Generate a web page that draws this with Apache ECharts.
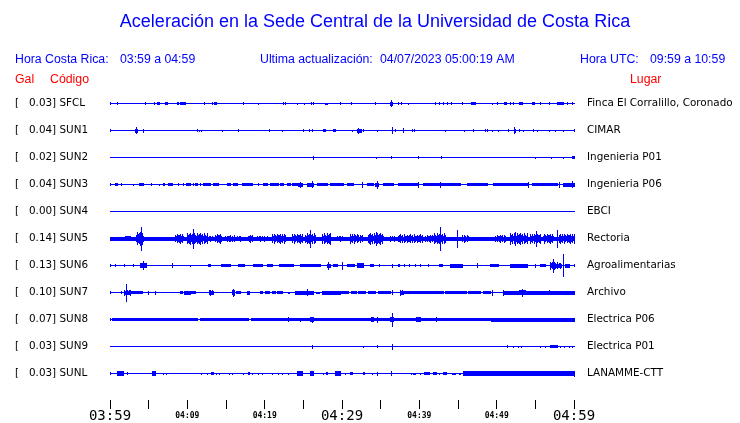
<!DOCTYPE html>
<html>
<head>
<meta charset="utf-8">
<script src="https://cdn.jsdelivr.net/npm/echarts@6/dist/echarts.min.js"></script>
<style>html,body{margin:0;padding:0;background:#fff;}#c{width:740px;height:423px;}</style>
</head>
<body>
<div id="c"></div>
<script>
// ---- data ----
const codes = ['SFCL','SUN1','SUN2','SUN3','SUN4','SUN5','SUN6','SUN7','SUN8','SUN9','SUNL'];
const gal = ['0.03','0.04','0.02','0.04','0.00','0.14','0.13','0.10','0.07','0.03','0.03'];
const places = ['Finca El Corralillo, Coronado','CIMAR','Ingenieria P01','Ingenieria P06','EBCI','Rectoria','Agroalimentarias','Archivo','Electrica P06','Electrica P01','LANAMME-CTT'];
const timeLabels = ['03:59','04:09','04:19','04:29','04:39','04:49','04:59'];
// events: [start minute, end minute, half amplitude]
const evSFCL = [[0,60,0.5],[0,0,1.5],[0.94,0.94,1.5],[4.53,4.53,1.5],[5.73,5.73,1.5],[6.1,6.3,1.5],[7.1,7.35,1.5],[8.7,8.85,1.5],[9.1,9.25,1.5],[9.5,9.65,1.5],[12.16,12.16,1.5],[13.15,13.15,1.5],[13.5,13.75,1.5],[17.16,17.16,1.5],[19.18,19.18,1],[22.41,22.41,1.5],[22.67,22.67,1.5],[24.14,24.14,1],[25.05,25.05,1],[26.03,26.03,1.5],[26.29,26.29,1.5],[27.85,28.0,1],[29.74,29.74,1.5],[31.13,31.13,1.5],[34.23,34.23,1.5],[36.2,36.5,2],[36.34,36.34,3.5],[37.28,37.28,1.5],[37.59,37.59,1.5],[38.57,38.57,1],[42.03,42.03,1.5],[42.54,42.54,1.5],[43.1,43.1,1.5],[43.62,43.62,1.5],[44.06,44.06,1.5],[45.48,45.48,1.5],[46.64,47.2,1.5],[49.36,49.36,1],[50.01,50.01,1.5],[50.95,51.21,1.5],[51.73,51.73,1.5],[52.15,52.15,1.5],[52.89,53.24,1.5],[54.53,54.87,1.5],[55.61,55.61,1.5],[56.81,56.81,1.5],[57.76,58.62,1.5],[59.14,59.14,1.5],[59.7,59.7,1.5]];
const evSUN1 = [[0,60,0.5],[0,0,1.5],[3.2,3.5,2],[3.36,3.36,3.5],[4.31,4.31,2],[11.21,11.21,1.5],[11.47,11.47,1],[11.73,11.73,1],[14.52,14.52,1],[16.59,16.59,1.5],[20.6,20.6,1.5],[22.28,22.28,1],[25.0,25.0,1.5],[25.77,25.77,1.5],[26.16,26.16,1.5],[27.55,27.8,1.5],[28.85,29.1,1.5],[31.26,31.26,1],[31.9,32.42,2],[32.1,32.1,3],[32.68,32.68,1.5],[34.49,34.49,1],[36.43,36.43,3.5],[36.86,36.86,1.5],[37.93,37.93,2.5],[39.01,39.01,1.5],[39.31,39.31,1.5],[43.36,43.36,1],[45.82,45.82,1],[46.98,46.98,1.5],[48.49,48.49,1.5],[48.75,48.75,1.5],[49.36,49.36,1],[50.21,50.21,1],[51.51,51.51,1.5],[52.2,52.4,2],[52.28,52.28,3.5],[52.89,52.89,1.5],[53.45,53.45,1],[54.74,54.74,1.5],[55.18,55.18,1],[56.81,56.81,1],[57.55,57.55,1],[58.54,58.54,1],[60,60,1.5]];
const evSUN2 = [[0,60,0.5],[26.21,26.21,2],[34.4,34.4,1],[36.34,36.34,1.5],[39.87,39.87,1.5],[42.76,42.76,1.5],[54.96,54.96,1],[57.03,57.03,1],[58.54,58.54,1],[59.7,60,1.5]];
const evSUN3 = [[0,60,0.7],[0,0,1.5],[0.65,0.86,1.5],[1.42,1.42,1.5],[3.02,3.02,1],[3.79,4.31,1.5],[5.30,5.30,1.5],[6.30,6.30,1],[6.81,6.98,1.5],[7.54,7.97,1.5],[8.84,8.84,1.5],[9.40,9.40,1.5],[9.83,10.35,1.5],[10.69,10.69,1.5],[10.99,11.29,1.5],[11.64,11.64,1.5],[12.07,12.93,1.5],[13.36,14.01,1.5],[15.09,15.52,1.5],[15.87,16.38,1.5],[17.03,18.32,1.5],[19.18,19.18,1.5],[19.74,20.26,1.5],[20.69,21.77,1.5],[21.98,22.41,1.5],[22.85,23.28,1.5],[23.5,24.14,1.5],[24.35,24.79,2],[24.57,24.57,3],[25.44,26.29,1.8],[26.12,26.12,3.5],[26.73,28.02,1.5],[28.45,30.17,1.5],[30.61,31.46,1.5],[32.59,32.59,3],[33.19,34.05,1.5],[34.3,34.7,2],[34.49,34.49,4],[35.34,36.63,1.5],[37.28,39.66,1.5],[39.87,39.87,3],[40.51,45.26,1.5],[42.67,42.67,3],[46.13,48.71,1.5],[49.57,53.88,1.5],[54.09,54.09,3],[54.53,57.76,1.5],[58.06,58.06,3],[58.62,60,1.8],[59.7,59.7,3.5]];
const evSUN4 = [[0,60,0.5]];
const evSUN5 = [[0,60,2],[1.94,2.59,2.5],[3.4,4.3,7],[3.97,3.97,12],[8.4,9.5,5],[10.0,11.2,6],[10.78,10.78,10],[11.4,12.5,6],[12.6,13.3,3],[13.6,14.4,5],[14.9,16.0,3.5],[16.2,16.8,3],[17.9,18.3,4],[19.0,20.3,3],[21.0,21.8,5],[22.0,22.6,5],[23.5,24.8,5],[25.2,26.5,6],[25.86,25.86,9],[27.4,28.5,6],[29.1,29.7,3],[29.74,30.1,3],[31.0,32.1,5],[32.3,32.7,4],[33.4,35.3,6],[34.4,34.4,7],[36.2,36.9,3],[37.3,38.9,4.5],[38.9,40.5,4.5],[40.7,41.6,4],[41.8,43.3,6],[42.67,42.67,12],[43.5,44.7,2],[44.9,44.9,9],[45.5,46.3,4],[46.6,49.5,2],[49.8,51.1,4],[51.7,53.9,6],[52.4,52.4,7],[54.3,55.6,5],[55.1,55.1,8],[56.0,57.3,5],[57.76,57.76,9],[58.0,59.0,5],[59.0,60,5]];
const evSUN6 = [[0,60,0.5],[0,0,1.5],[0.65,0.65,1.5],[1.81,1.81,1.5],[3.0,3.0,1.5],[3.9,4.7,2.5],[4.31,4.31,4.5],[7.97,7.97,2.5],[10.35,10.35,1],[12.7,12.95,1.5],[14.4,15.5,1.5],[16.6,17.3,1.5],[18.5,19.7,1.5],[20.3,20.9,1.5],[21.9,23.7,1.5],[24.6,27.2,1.5],[28.1,28.4,2],[28.23,28.23,4],[28.9,29.3,1.5],[29.96,29.96,4],[30.6,31.5,1.5],[31.9,32.7,2.5],[33.6,34.0,1.5],[34.8,34.8,1.5],[36.43,36.43,2],[37.2,37.4,1.5],[38.0,38.0,1.5],[38.6,38.6,1.5],[39.5,39.5,1.5],[40.1,40.1,1.5],[41.1,41.1,1.5],[42.5,42.9,1.5],[44.0,45.5,2],[47.41,47.41,2.5],[49.1,50.2,1.5],[51.7,53.9,2],[54.96,54.96,2],[55.6,56.2,1.5],[56.9,57.76,4],[57.3,57.3,7],[57.9,58.3,3],[58.62,58.62,11.5],[58.9,59.4,2],[60,60,1.5]];
const evSUN7 = [[0,60,0.5],[0,0,1.5],[1.4,1.4,1.5],[1.75,2.6,3],[2.07,2.07,9],[2.7,4.1,1.5],[4.95,4.95,2],[5.82,5.82,2],[9.05,9.3,1.5],[9.6,10.3,1.8],[10.5,10.99,1.5],[12.84,13.36,3],[15.74,16.0,3],[15.9,15.9,4],[16.3,16.81,1.5],[17.67,18.01,2],[19.4,19.6,1.5],[20.0,20.5,1.5],[20.9,21.4,1.5],[21.6,22.2,1.5],[23.0,23.2,1],[23.92,26.29,2],[25.44,25.44,3.5],[26.7,27.0,1],[27.4,29.74,1.8],[29.9,30.8,1.5],[31.1,31.8,1.5],[32.1,33.0,1.5],[33.3,34.3,1.5],[34.6,35.4,1.5],[35.6,36.2,1.5],[36.43,36.43,2.5],[37.5,37.93,3],[38.0,43.0,1.5],[43.3,46.0,1.5],[46.3,47.9,1.5],[48.2,49.1,1.5],[49.36,49.36,3],[50.86,50.86,3],[51.0,60,1.8],[52.9,53.6,2.5],[53.24,53.24,4],[56.8,56.8,2.5]];
const evSUN8 = [[0,60,0.6],[0,0,1.5],[0.2,0.5,1.5],[0.7,1.8,1.5],[2.0,2.4,1.5],[2.6,6.7,1.5],[6.9,11.3,1.5],[11.6,17.9,1.5],[18.2,22.9,1.5],[22.97,22.97,2.5],[23.1,26.0,1.5],[24.57,24.57,2],[25.9,26.3,2.5],[26.08,26.08,3],[26.4,60,1.5],[33.8,34.0,2.5],[34.49,34.49,3],[36.2,36.6,2.5],[36.43,36.43,7],[39.6,40.1,2.5],[42.1,42.1,2.5],[49.3,60,2.2]];
const evSUN9 = [[0,60,0.5],[26.08,26.08,2],[32.68,32.68,1],[34.49,34.49,1.5],[36.43,36.43,3],[51.3,51.3,1.5],[52.1,52.1,1],[52.7,52.7,1],[53.2,53.2,1],[55.6,55.6,1],[56.2,56.2,1],[56.9,57.76,1.5],[58.2,58.2,1],[58.7,58.7,1],[59.3,59.3,1],[59.8,59.8,1]];
const evSUNL = [[0,60,0.5],[0,0,1.5],[0.94,1.72,2.5],[2.15,2.15,1.5],[5.39,5.82,2.5],[6.9,6.9,1],[7.3,7.3,1],[11.8,11.8,1],[12.5,12.5,1],[13.0,13.3,1.5],[13.7,13.7,1],[14.1,14.1,1],[15.4,15.4,1],[15.8,15.8,1],[17.2,17.2,1],[17.8,18.0,1.5],[18.3,18.3,1],[19.2,19.2,1],[19.7,19.7,1],[20.9,20.9,1],[21.7,21.7,1],[22.2,22.2,1],[23.0,23.0,1],[24.14,24.79,2.5],[25.86,26.29,2.5],[27.5,27.5,1],[27.9,28.1,1.5],[29.1,29.74,2.5],[30.4,30.4,1],[31.0,31.3,1.5],[32.7,32.9,1.5],[33.9,33.9,1],[34.49,34.49,2],[36.3,36.3,2.5],[38.9,38.9,1],[39.2,39.5,1],[40.1,40.1,1],[40.6,41.3,1.5],[41.8,42.1,1.5],[42.5,42.5,1],[43.1,43.5,1.5],[44.2,44.6,1],[45.1,45.2,1],[45.6,60,2.5],[60,60,3]];
const events = [evSFCL, evSUN1, evSUN2, evSUN3, evSUN4, evSUN5, evSUN6, evSUN7, evSUN8, evSUN9, evSUNL];

// ---- layout / style ----
const ROW = 27;
const BLUE = '#0000ff';
const HFONT = '12.3px "Liberation Sans", Arial, sans-serif';
// texture used to draw a burst as a row of 1px strokes inside its envelope
const TEXTURE = [1, 0.6, 0.85, 0.45, 0.95, 0.7, 0.5, 0.9, 0.65, 0.8];
const chart = echarts.init(document.getElementById('c'), null, {renderer: 'canvas'});

const seriesData = [];
events.forEach((ev, i) => {
  ev.forEach(e => seriesData.push([e[0], e[1], ROW * (i + 1), e[2]]));
});

function rowLabel(v, arr) {
  const idx = Math.round(v / ROW) - 1;
  return (idx >= 0 && idx < arr.length) ? arr[idx] : '';
}

const option = {
  animation: false,
  backgroundColor: '#ffffff',
  graphic: [
    {type: 'text', x: 375, y: 13, style: {text: 'Aceleración en la Sede Central de la Universidad de Costa Rica', font: '18px "Liberation Sans", Arial, sans-serif', fill: BLUE, align: 'center'}},
    {type: 'text', x: 15, y: 54, style: {text: 'Hora Costa Rica:', font: HFONT, fill: BLUE}},
    {type: 'text', x: 120, y: 54, style: {text: '03:59 a 04:59', font: HFONT, fill: BLUE}},
    {type: 'text', x: 260, y: 54, style: {text: 'Ultima actualización:', font: HFONT, fill: BLUE}},
    {type: 'text', x: 380, y: 54, style: {text: '04/07/2023 05:00:19 AM', font: HFONT, fill: BLUE}},
    {type: 'text', x: 580, y: 54, style: {text: 'Hora UTC:', font: HFONT, fill: BLUE}},
    {type: 'text', x: 650, y: 54, style: {text: '09:59 a 10:59', font: HFONT, fill: BLUE}},
    {type: 'text', x: 15, y: 74, style: {text: 'Gal', font: HFONT, fill: '#ff0000'}},
    {type: 'text', x: 50, y: 74, style: {text: 'Código', font: HFONT, fill: '#ff0000'}},
    {type: 'text', x: 630, y: 74, style: {text: 'Lugar', font: HFONT, fill: '#ff0000'}}
  ],
  grid: {left: 110, width: 464, top: 76, height: 324, containLabel: false, outerBoundsMode: 'none'},
  xAxis: {
    type: 'value', min: 0, max: 60, interval: 5, position: 'bottom',
    axisLine: {show: false, onZero: false},
    axisTick: {show: true, length: 9, lineStyle: {color: '#000', width: 1}},
    splitLine: {show: false},
    axisLabel: {
      margin: 8,
      showMinLabel: true, showMaxLabel: true,
      formatter: function (v) {
        if (v % 10 !== 0) return '';
        const idx = v / 10;
        return (idx % 3 === 0) ? '{big|' + timeLabels[idx] + '}' : '{small|' + timeLabels[idx] + '}';
      },
      rich: {
        big: {fontFamily: '"DejaVu Sans Mono", monospace', fontSize: 14, color: '#000', padding: [1, 0, 0, 0]},
        small: {fontFamily: '"DejaVu Sans Mono", monospace', fontSize: 8, fontWeight: 'bold', color: '#000', padding: [4, 0, 0, 0]}
      }
    }
  },
  yAxis: [
    {
      type: 'value', min: 0, max: ROW * 12, interval: ROW, inverse: true, position: 'left',
      axisLine: {show: false}, axisTick: {show: false}, splitLine: {show: false},
      axisLabel: {
        align: 'left', margin: 95, color: '#000', fontSize: 10.4, fontFamily: '"DejaVu Sans", sans-serif', padding: [2, 0, 0, 0],
        formatter: v => { const c = rowLabel(v, codes); return c ? '[   ' + rowLabel(v, gal) + '] ' + c : ''; }
      }
    },
    {
      type: 'value', min: 0, max: ROW * 12, interval: ROW, inverse: true, position: 'right',
      axisLine: {show: false}, axisTick: {show: false}, splitLine: {show: false},
      axisLabel: {
        align: 'left', margin: 13, color: '#000', fontSize: 10.4, fontFamily: '"DejaVu Sans", sans-serif', padding: [2, 0, 0, 0],
        formatter: v => rowLabel(v, places)
      }
    }
  ],
  series: [{
    type: 'custom',
    clip: false,
    xAxisIndex: 0, yAxisIndex: 0,
    encode: {x: [0, 1], y: 2},
    data: seriesData,
    renderItem: function (params, api) {
      const p0 = api.coord([api.value(0), api.value(2)]);
      const p1 = api.coord([api.value(1), api.value(2)]);
      const h = api.size([0, api.value(3)])[1];
      const x0 = Math.round(p0[0]);
      const x1 = Math.round(p1[0]);
      const yc = p0[1] + 0.5;
      const w = x1 - x0 + 1;
      if (h >= 3 && w >= 3) {
        const kids = [];
        for (let k = 0; k < w; k++) {
          const hh = Math.max(2, h * TEXTURE[(x0 + k) % TEXTURE.length]);
          const H = Math.max(1, Math.round(2 * hh));
          kids.push({type: 'rect', shape: {x: x0 + k, y: Math.round(yc - H / 2), width: 1, height: H}, style: {fill: BLUE}});
        }
        return {type: 'group', children: kids};
      }
      const H = Math.max(1, Math.round(2 * h));
      return {
        type: 'rect',
        shape: {x: x0, y: Math.round(yc - H / 2), width: Math.max(1, w), height: H},
        style: {fill: BLUE}
      };
    }
  }]
};
chart.setOption(option);
</script>
</body>
</html>
